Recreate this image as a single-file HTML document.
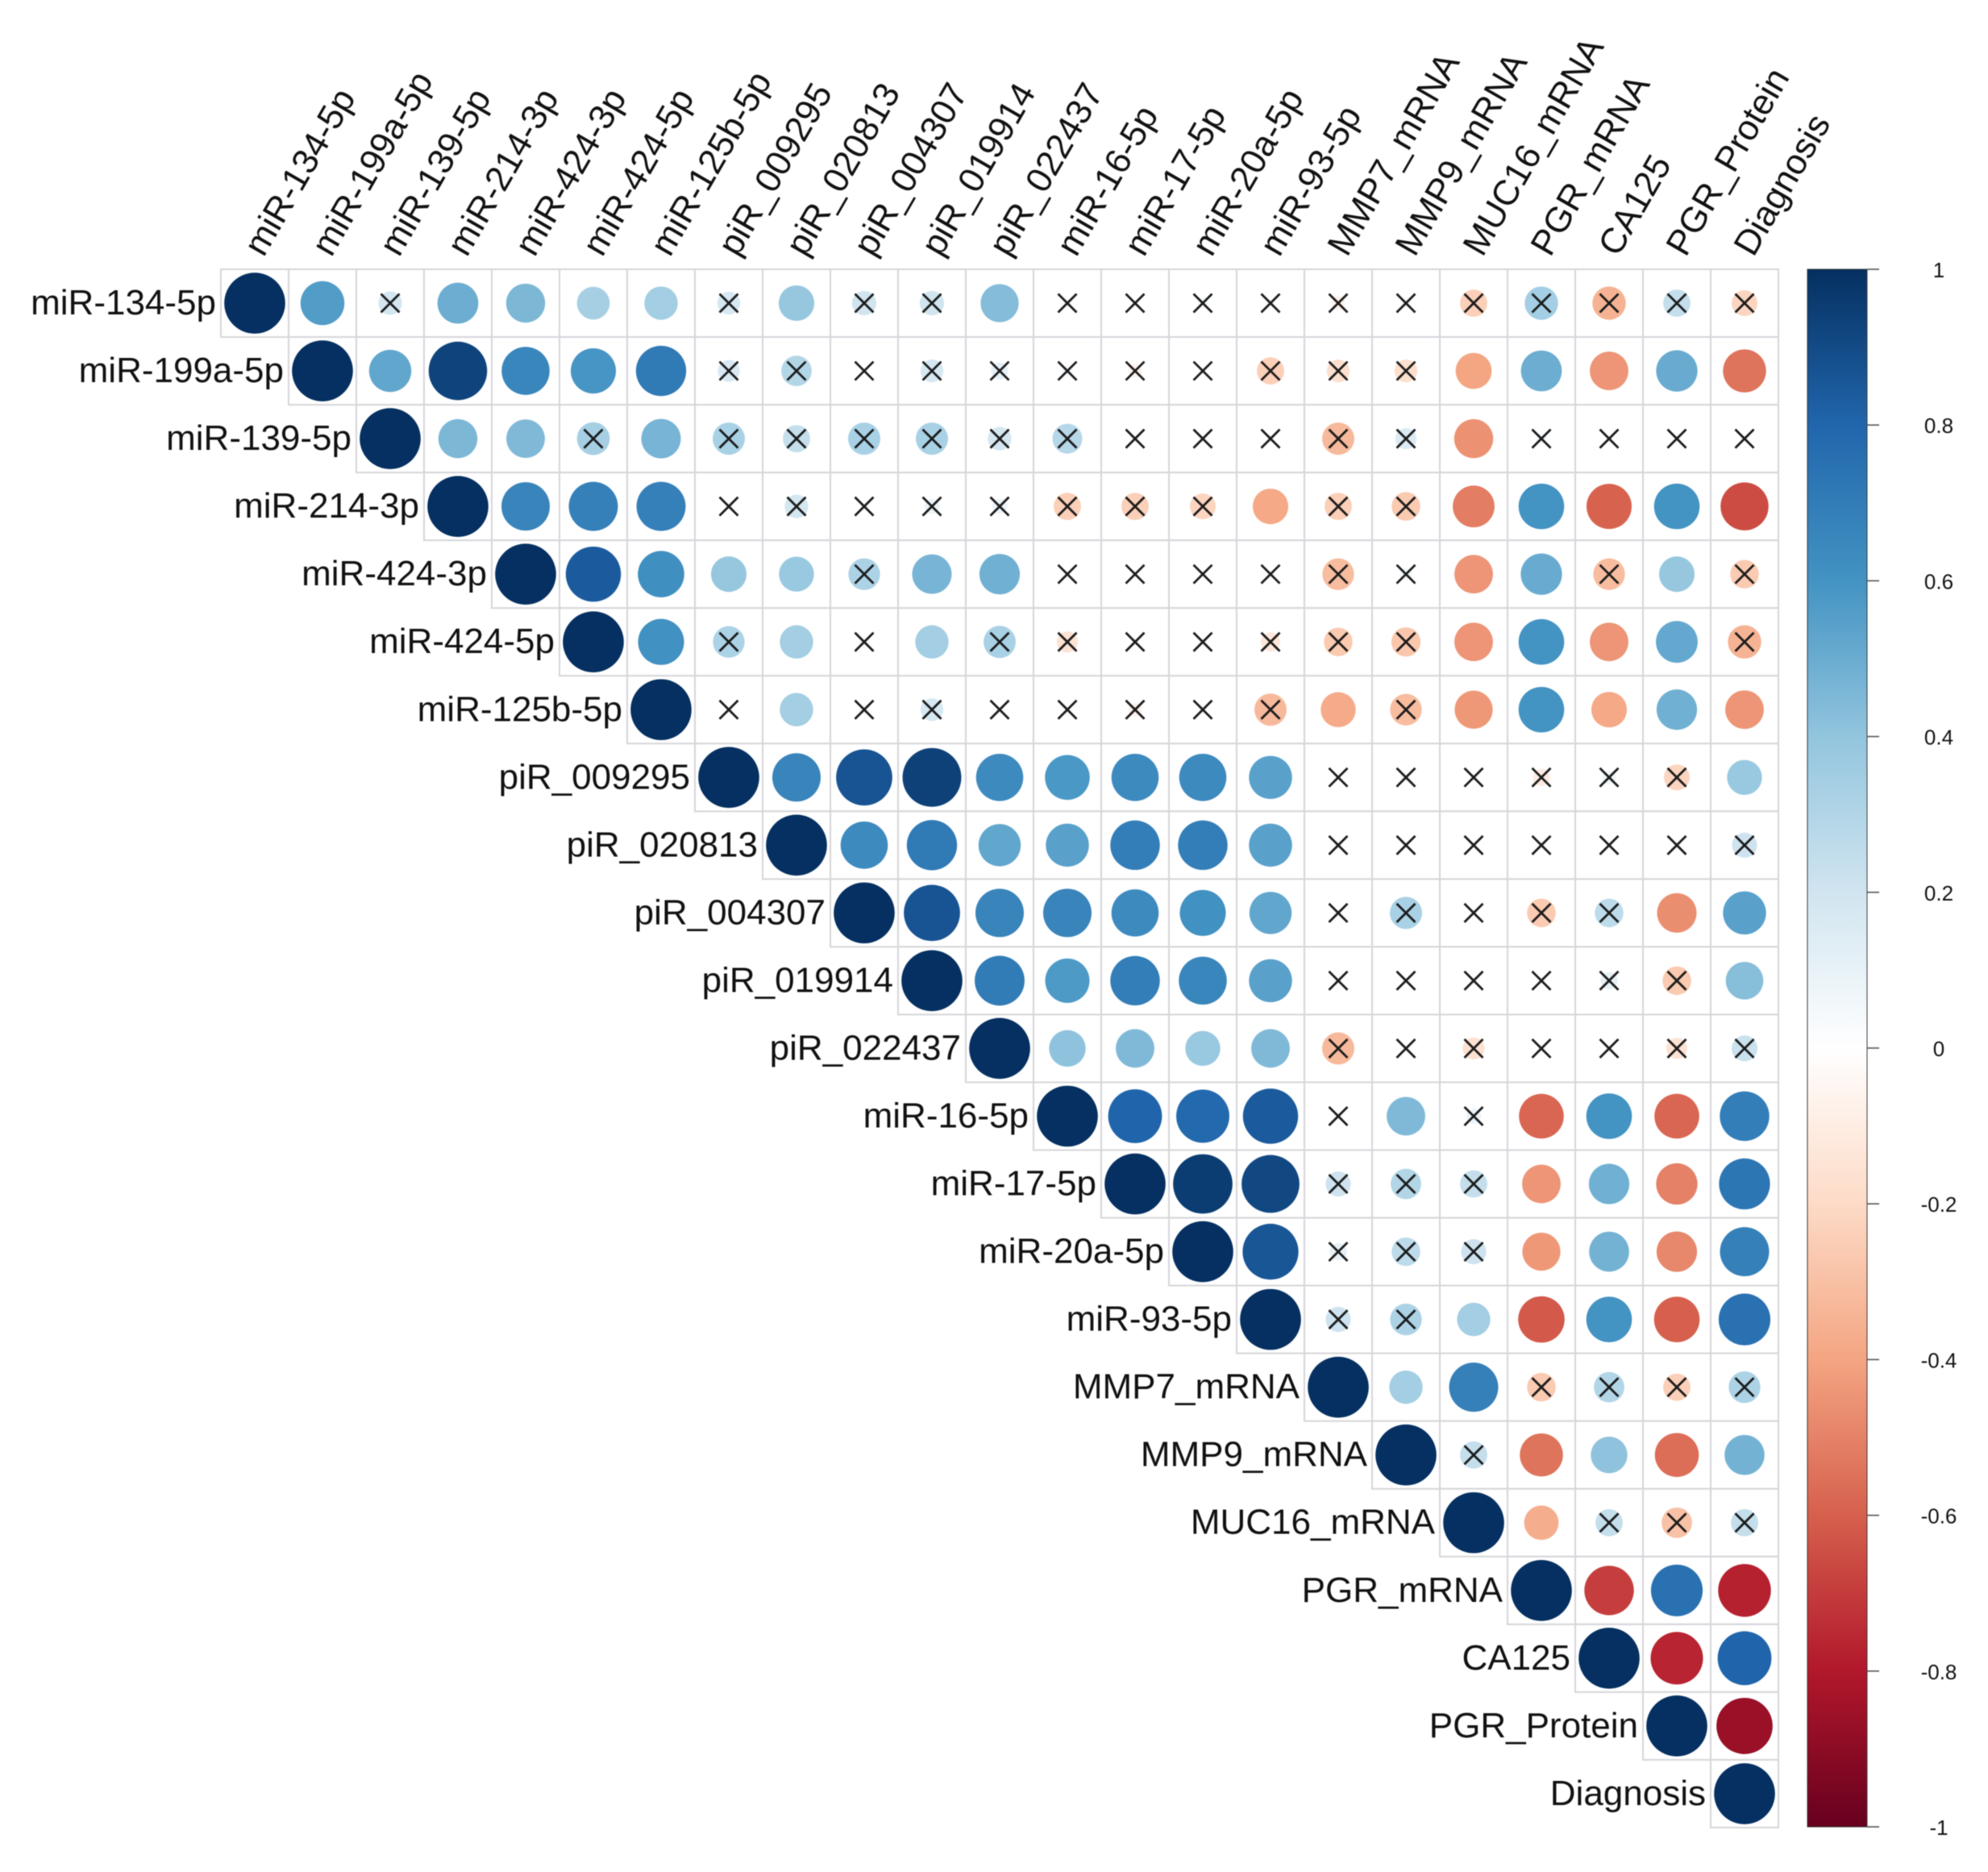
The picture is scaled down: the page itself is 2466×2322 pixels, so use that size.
<!DOCTYPE html>
<html lang="en">
<head>
<meta charset="utf-8">
<title>Correlation matrix</title>
<style>
html,body{margin:0;padding:0;background:#fff;}
svg{display:block;filter:blur(0.5px);}
text{font-family:"Liberation Sans",Arial,sans-serif;fill:#111;}
</style>
</head>
<body>
<svg id="chart" xmlns="http://www.w3.org/2000/svg" width="2466" height="2322" viewBox="0 0 2466 2322">
<defs>
<linearGradient id="cbGrad" x1="0" y1="0" x2="0" y2="1"></linearGradient>
</defs>
<rect x="0" y="0" width="2466" height="2322" fill="#ffffff"></rect>
<g id="cells"></g>
<g id="rowLabels"></g>
<g id="colLabels"></g>
<g id="legend"></g>
</svg>
<script>
const variables = ["miR-134-5p","miR-199a-5p","miR-139-5p","miR-214-3p","miR-424-3p","miR-424-5p","miR-125b-5p","piR_009295","piR_020813","piR_004307","piR_019914","piR_022437","miR-16-5p","miR-17-5p","miR-20a-5p","miR-93-5p","MMP7_mRNA","MMP9_mRNA","MUC16_mRNA","PGR_mRNA","CA125","PGR_Protein","Diagnosis"];

// Upper triangle, each row starts at its diagonal cell.
const r01 = [1,.52,.15,.45,.41,.29,.3,.14,.34,.16,.16,.39,.02,.02,.03,.02,-.05,.03,-.2,.3,-.3,.2,-.18];
const r02 = [1,.48,.92,.62,.55,.68,.13,.25,.02,.14,.08,.03,-.05,.02,-.2,-.14,-.14,-.35,.45,-.4,.46,-.5];
const r03 = [1,.41,.4,.29,.42,.28,.2,.28,.28,.15,.24,.02,.02,.02,-.28,.12,-.41,.03,.02,.02,.02];
const r04 = [1,.63,.65,.65,.02,.15,.02,.06,.06,-.2,-.2,-.18,-.34,-.2,-.22,-.47,.56,-.55,.56,-.62];
const r05 = [1,.82,.58,.34,.33,.27,.42,.44,.02,.02,.02,.02,-.27,.04,-.4,.46,-.27,.34,-.22];
const r06 = [1,.57,.27,.3,.03,.3,.28,-.12,.02,.02,-.1,-.22,-.23,-.4,.56,-.4,.47,-.3];
const r07 = [1,.02,.3,.03,.14,.02,.02,-.05,.02,-.28,-.33,-.27,-.39,.56,-.34,.44,-.4];
const r08 = [1,.63,.85,.93,.6,.54,.6,.6,.5,.02,.02,.02,-.08,.05,-.18,.33];
const r09 = [1,.6,.68,.48,.5,.66,.66,.5,.02,.02,.02,.02,.02,.02,.17];
const r10 = [1,.85,.63,.63,.6,.57,.48,.02,.28,.02,-.22,.22,-.42,.5];
const r11 = [1,.67,.53,.66,.62,.5,.02,.02,.02,.02,.08,-.22,.38];
const r12 = [1,.36,.4,.33,.4,-.28,.02,-.13,.02,.02,-.12,.18];
const r13 = [1,.78,.76,.82,.02,.4,.06,-.54,.56,-.54,.66];
const r14 = [1,.95,.9,.17,.25,.2,-.4,.44,-.46,.7];
const r15 = [1,.84,.08,.22,.17,-.39,.43,-.44,.65];
const r16 = [1,.17,.27,.3,-.58,.56,-.56,.72];
const r17 = [1,.3,.65,-.22,.25,-.2,.27];
const r18 = [1,.2,-.5,.36,-.52,.43];
const r19 = [1,-.32,.2,-.25,.2];
const r20 = [1,-.66,.72,-.75];
const r21 = [1,-.74,.78];
const r22 = [1,-.85];
const r23 = [1];
const corrRows = [r01,r02,r03,r04,r05,r06,r07,r08,r09,r10,r11,r12,r13,r14,r15,r16,r17,r18,r19,r20,r21,r22,r23];

// 1 = not significant (crossed out); same layout as the rows above.
const x01 = [0,0,1,0,0,0,0,1,0,1,1,0,1,1,1,1,1,1,1,1,1,1,1];
const x02 = [0,0,0,0,0,0,1,1,1,1,1,1,1,1,1,1,1,0,0,0,0,0];
const x03 = [0,0,0,1,0,1,1,1,1,1,1,1,1,1,1,1,0,1,1,1,1];
const x04 = [0,0,0,0,1,1,1,1,1,1,1,1,0,1,1,0,0,0,0,0];
const x05 = [0,0,0,0,0,1,0,0,1,1,1,1,1,1,0,0,1,0,1];
const x06 = [0,0,1,0,1,0,1,1,1,1,1,1,1,0,0,0,0,1];
const x07 = [0,1,0,1,1,1,1,1,1,1,0,1,0,0,0,0,0];
const x08 = [0,0,0,0,0,0,0,0,0,1,1,1,1,1,1,0];
const x09 = [0,0,0,0,0,0,0,0,1,1,1,1,1,1,1];
const x10 = [0,0,0,0,0,0,0,1,1,1,1,1,0,0];
const x11 = [0,0,0,0,0,0,1,1,1,1,1,1,0];
const x12 = [0,0,0,0,0,1,1,1,1,1,1,1];
const x13 = [0,0,0,0,1,0,1,0,0,0,0];
const x14 = [0,0,0,1,1,1,0,0,0,0];
const x15 = [0,0,1,1,1,0,0,0,0];
const x16 = [0,1,1,0,0,0,0,0];
const x17 = [0,0,0,1,1,1,1];
const x18 = [0,1,0,0,0,0];
const x19 = [0,0,1,1,1];
const x20 = [0,0,0,0];
const x21 = [0,0,0];
const x22 = [0,0];
const x23 = [0];
const crossRows = [x01,x02,x03,x04,x05,x06,x07,x08,x09,x10,x11,x12,x13,x14,x15,x16,x17,x18,x19,x20,x21,x22,x23];

const legendTicks = [1,0.8,0.6,0.4,0.2,0,-0.2,-0.4,-0.6,-0.8,-1];
const paletteValues = [-1,-0.8,-0.6,-0.4,-0.2,0,0.2,0.4,0.6,0.8,1];
const paletteColors = ["#67001F","#B2182B","#D6604D","#F4A582","#FDDBC7","#FFFFFF","#D1E5F0","#92C5DE","#4393C3","#2166AC","#053061"];

const NS = "http://www.w3.org/2000/svg";
const gridLeft = 274, gridTop = 334, cellW = 84, cellH = 84.04;
const barLeft = 2242, barRight = 2316, barTop = 334, barBottom = 2266;

function xCenter(col){ return gridLeft + (col + 0.5) * cellW; }
function yCenter(row){ return gridTop + (row + 0.5) * cellH; }
function radius(v){ return 37.8 * Math.sqrt(Math.abs(v)); }
function legendY(v){ return barTop + (1 - v) / 2 * (barBottom - barTop); }
function hexToRgb(h){ return [parseInt(h.slice(1,3),16),parseInt(h.slice(3,5),16),parseInt(h.slice(5,7),16)]; }
function colorAt(v){
  const c = Math.max(-1, Math.min(1, v));
  let i = 0;
  while (i < paletteValues.length - 2 && c > paletteValues[i + 1]) i++;
  const t = (c - paletteValues[i]) / (paletteValues[i + 1] - paletteValues[i]);
  const a = hexToRgb(paletteColors[i]), b = hexToRgb(paletteColors[i + 1]);
  return "rgb(" + a.map((p, k) => Math.round(p + (b[k] - p) * t)).join(",") + ")";
}
// circles print slightly more saturated than the nominal palette
function colorFor(v){ return colorAt(Math.sign(v) * Math.pow(Math.abs(v), 0.88)); }
function svgEl(tag, parent, attrs){
  const el = document.createElementNS(NS, tag);
  for (const k in attrs) el.setAttribute(k, attrs[k]);
  parent.appendChild(el);
  return el;
}

const cellsG = document.getElementById("cells");
const rowG = document.getElementById("rowLabels");
const colG = document.getElementById("colLabels");
const legendG = document.getElementById("legend");

// grid cells first so circles sit above all lines
corrRows.forEach((vals, row) => {
  vals.forEach((v, k) => {
    const col = row + k;
    const cell = svgEl("rect", cellsG, {x: gridLeft + col * cellW, y: gridTop + row * cellH, width: cellW, height: cellH, fill: "#ffffff", stroke: "#d6d6da", "stroke-width": 2});
    
    
  });
});

corrRows.forEach((vals, row) => {
  vals.forEach((v, k) => {
    const col = row + k;
    const cx = xCenter(col), cy = yCenter(row);
    const dot = svgEl("circle", cellsG, {cx: cx, cy: cy, r: radius(v), fill: colorFor(v)});
    
    
    if (crossRows[row][k]) {
      const s = 11.5;
      const cross = svgEl("path", cellsG, {d: "M" + (cx - s) + " " + (cy - s) + "L" + (cx + s) + " " + (cy + s) + "M" + (cx - s) + " " + (cy + s) + "L" + (cx + s) + " " + (cy - s), stroke: "#1c1c1c", "stroke-width": 2.8, fill: "none"});
      
      
    }
  });
});

variables.forEach((name, i) => {
  const rowLabel = svgEl("text", rowG, {x: gridLeft + i * cellW - 6, y: yCenter(i) + 14, "text-anchor": "end", "font-size": 44});
  rowLabel.textContent = name;
  
  

  const ax = xCenter(i) + 11, ay = 320;
  const colLabel = svgEl("text", colG, {x: ax, y: ay, "font-size": 44, transform: "rotate(-60 " + ax + " " + ay + ")"});
  colLabel.textContent = name;
  
  
});

// legend: gradient stops must ascend in offset, so walk the palette from +1 to -1
const grad = document.getElementById("cbGrad");
for (let i = paletteValues.length - 1; i >= 0; i--) {
  svgEl("stop", grad, {offset: ((1 - paletteValues[i]) / 2 * 100) + "%", "stop-color": paletteColors[i]});
}
const bar = svgEl("rect", legendG, {x: barLeft, y: barTop, width: barRight - barLeft, height: barBottom - barTop, fill: "url(#cbGrad)", stroke: "#3a3a3a", "stroke-width": 1});


legendTicks.forEach((t) => {
  const y = legendY(t);
  const tick = svgEl("line", legendG, {x1: barRight, x2: barRight + 15, y1: y, y2: y, stroke: "#555555", "stroke-width": 1.6});
  
  
  const lab = svgEl("text", legendG, {x: 2405, y: y + 10, "text-anchor": "middle", "font-size": 26});
  lab.textContent = String(t);
  
  
});
</script>
</body>
</html>
